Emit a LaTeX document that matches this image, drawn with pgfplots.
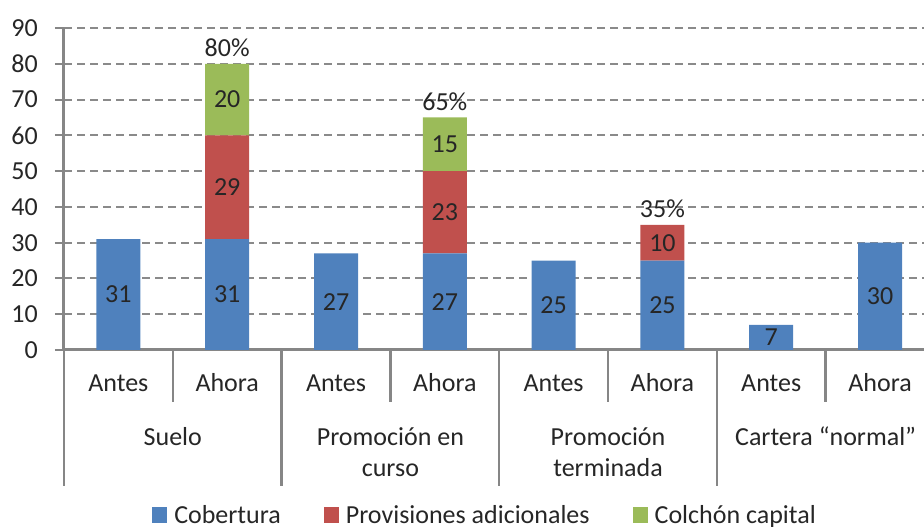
\documentclass[border=0pt]{standalone}
\usepackage{pgfplots}
\pgfplotsset{compat=1.18}
\usepackage{pgfplotstable}
\usepackage{fontspec}
\setmainfont{Carlito}

\definecolor{cob}{HTML}{4F81BD}
\definecolor{prov}{HTML}{C0504D}
\definecolor{colch}{HTML}{9BBB59}
\definecolor{ejes}{HTML}{868686}
\definecolor{rejilla}{HTML}{8A8A8A}
\definecolor{texto}{HTML}{262626}

\newcommand{\fnt}{\fontsize{26pt}{33pt}\selectfont}

% misma caja para las barras y para las etiquetas
\pgfplotsset{caja/.style={
    at={(64pt,177pt)}, anchor=south west,
    scale only axis, width=860pt, height=322pt,
    xmin=-0.5, xmax=7.404, ymin=0, ymax=90,
    enlargelimits=false, clip=false,
    /pgf/number format/assume math mode=true}}

% barras: 0..7 = Antes/Ahora de cada grupo
\pgfplotstableread{
x  cob  prov  colch
0  31   0     0
1  31   29    20
2  27   0     0
3  27   23    15
4  25   0     0
5  25   10    0
6  7    0     0
7  30   0     0
}\datos

% etiquetas dentro de las barras (centro de cada tramo)
\pgfplotstableread{
x   y     lab
0   15.5  31
1   15.5  31
2   13.5  27
3   13.5  27
4   12.5  25
5   12.5  25
6   3.5   7
7   15    30
1   45.5  29
3   38.5  23
5   30    10
1   70    20
3   57.5  15
}\etiquetas

% totales sobre las barras
\pgfplotstableread{
x  y
1  80
3  65
5  35
}\totales

\begin{document}
\begin{tikzpicture}
\begin{axis}[
    caja,
    ybar stacked,
    bar width=44pt,
    axis x line=bottom,
    axis y line=left,
    axis line style={-, draw=ejes, line width=3pt},
    ytick={0,10,...,90},
    ymajorgrids=true,
    grid style={draw=rejilla, line width=2pt, dash pattern=on 8pt off 5pt},
    tick align=outside,
    major tick length=9pt,
    ytick style={draw=ejes, line width=2pt},
    xtick={0,...,7},
    xticklabels={Antes,Ahora,Antes,Ahora,Antes,Ahora,Antes,Ahora},
    xtick style={draw=none},
    xticklabel style={anchor=base, yshift=-33pt, font=\fnt, text=texto},
    yticklabel style={font=\fnt, text=texto, inner sep=0pt, xshift=-17pt},
    extra x ticks={0.5,2.5,4.5,6.5},
    extra x tick labels={Suelo,Promoción en,Promoción,Cartera ``normal''},
    extra x tick style={grid=none, xtick style={draw=none},
        xticklabel style={anchor=base, yshift=-54pt, font=\fnt, text=texto}},
    legend columns=-1,
    legend style={draw=none, fill=none, at={(0.4884,-0.5124)}, anchor=center,
        font=\fnt, text=texto, nodes={inner sep=0pt},
        /tikz/every odd column/.style={column sep=7pt},
        /tikz/every even column/.style={column sep=43pt}},
    legend image code/.code={\fill[#1] (0pt,-8pt) rectangle (15pt,8pt);},
]

\addplot[fill=cob, draw=none] table[x=x, y=cob] {\datos};
\addlegendentry{Cobertura}
\addplot[fill=prov, draw=none] table[x=x, y=prov] {\datos};
\addlegendentry{Provisiones adicionales}
\addplot[fill=colch, draw=none] table[x=x, y=colch] {\datos};
\addlegendentry{Colchón capital}

% segunda línea de las etiquetas de grupo
\node[anchor=base, font=\fnt, text=texto] at ([yshift=-127pt]axis cs:2.5,0) {curso};
\node[anchor=base, font=\fnt, text=texto] at ([yshift=-127pt]axis cs:4.5,0) {terminada};

% separadores de categorías
\draw[ejes, line width=2.5pt] (axis cs:0.5,0) -- ([yshift=-52pt]axis cs:0.5,0);
\draw[ejes, line width=2.5pt] (axis cs:2.5,0) -- ([yshift=-52pt]axis cs:2.5,0);
\draw[ejes, line width=2.5pt] (axis cs:4.5,0) -- ([yshift=-52pt]axis cs:4.5,0);
\draw[ejes, line width=2.5pt] (axis cs:6.5,0) -- ([yshift=-52pt]axis cs:6.5,0);
\draw[ejes, line width=2.5pt] (axis cs:-0.5,0) -- ([yshift=-136pt]axis cs:-0.5,0);
\draw[ejes, line width=2.5pt] (axis cs:1.5,0) -- ([yshift=-136pt]axis cs:1.5,0);
\draw[ejes, line width=2.5pt] (axis cs:3.5,0) -- ([yshift=-136pt]axis cs:3.5,0);
\draw[ejes, line width=2.5pt] (axis cs:5.5,0) -- ([yshift=-136pt]axis cs:5.5,0);
\end{axis}

% etiquetas de valores, sin apilar
\begin{axis}[caja, hide axis]
\addplot[sharp plot, draw=none,
    nodes near coords, point meta=explicit symbolic,
    every node near coord/.append style={anchor=center, font=\fnt, text=texto}]
    table[x=x, y=y, meta=lab] {\etiquetas};
\addplot[sharp plot, draw=none,
    point meta=y,
    nodes near coords={\pgfmathprintnumber{\pgfplotspointmeta}\%},
    every node near coord/.append style={anchor=base, inner sep=0pt, yshift=7pt, font=\fnt, text=texto}]
    table[x=x, y=y] {\totales};
\end{axis}

\pgfresetboundingbox
\useasboundingbox (0,0) rectangle (924pt,527pt);
\end{tikzpicture}
\end{document}
